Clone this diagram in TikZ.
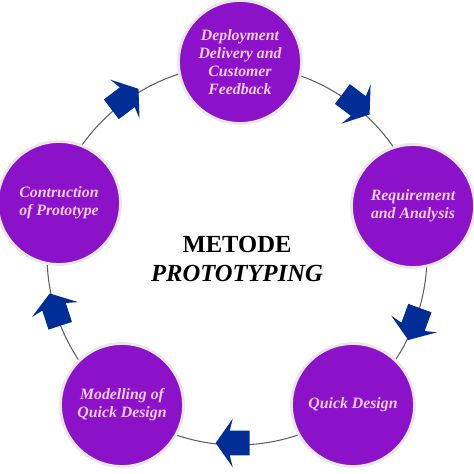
\documentclass[tikz,border=0pt]{standalone}
\usepackage{fontspec}
\setmainfont{Liberation Serif}
\usepackage{xcolor}
\usepackage{tikz}
\usetikzlibrary{calc,shapes.arrows}

\definecolor{phase}{RGB}{140,18,202}
\definecolor{phasetext}{RGB}{246,205,246}
\definecolor{flow}{RGB}{0,45,150}

\begin{document}
\begin{tikzpicture}[
    x=0.02cm, y=0.02cm,
    phasebox/.style={circle, draw=gray!18, line width=1.6pt, fill=phase, minimum size=2.46cm, inner sep=0pt,
        text=phasetext, align=center, font=\fontsize{9}{10.3}\selectfont\bfseries\itshape},
    flowarrow/.style={single arrow, fill=flow, draw=none, inner xsep=0pt, inner ysep=0.24cm,
        minimum height=0.68cm, single arrow head extend=0.24cm, single arrow tip angle=110,
        single arrow head indent=0.06cm},
    title/.style={align=center, font=\fontsize{14}{16.2}\selectfont\bfseries},
]
\useasboundingbox (0,0) rectangle (474,474);
\fill[white] (0,0) rectangle (474,474);

\coordinate (ctr) at (237,219);
\draw[gray!75!black, line width=0.6pt] (ctr) circle (190);

\node[phasebox] (deploy) at (240,412) {Deployment\\Delivery and\\Customer\\Feedback};
\node[phasebox] (req) at (413,268) {Requirement\\and Analysis};
\node[phasebox] (quick) at (353,69) {Quick Design};
\node[phasebox] (model) at (122,69) {Modelling of\\Quick Design};
\node[phasebox] (build) at (59,271) {Contruction\\of Prototype};

% arrows sitting on the ring, clockwise
\node[flowarrow, rotate=37] (a1) at ($(ctr)+(127:192)$) {};
\node[flowarrow, rotate=-37] (a2) at ($(ctr)+(53:192)$) {};
\node[flowarrow, rotate=-110] (a3) at ($(ctr)+(-20:190)$) {};
\node[flowarrow, rotate=180] (a4) at ($(ctr)+(-90:188)$) {};
\node[flowarrow, rotate=108] (a5) at ($(ctr)+(-162:190)$) {};

\node[title] (name) at (237,215) {METODE\\\itshape PROTOTYPING};
\end{tikzpicture}
\end{document}
